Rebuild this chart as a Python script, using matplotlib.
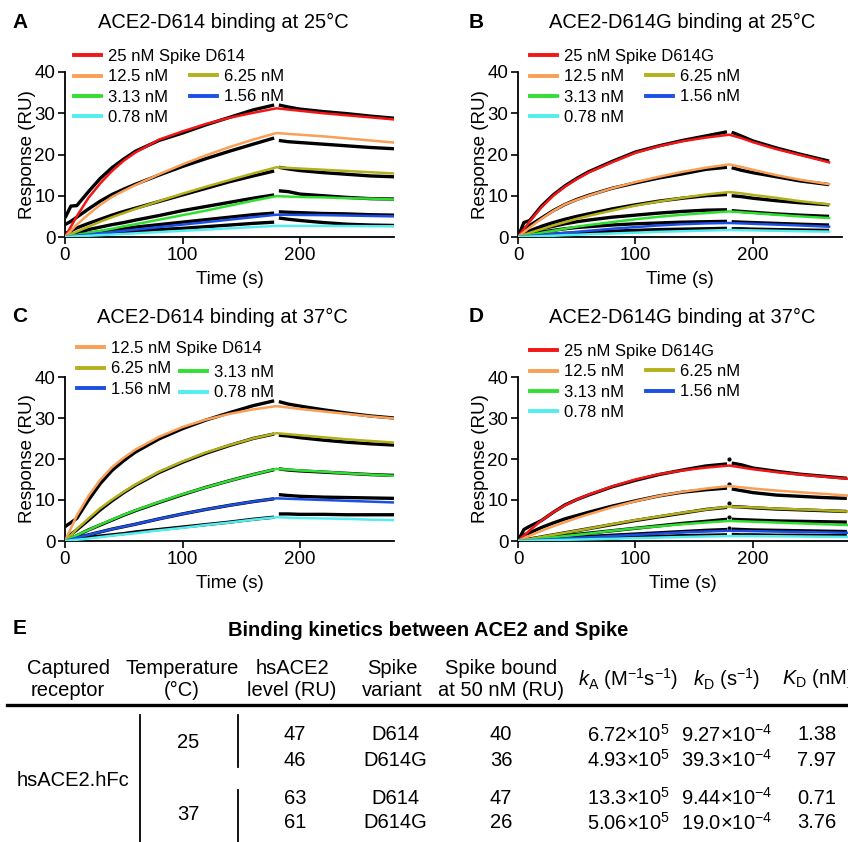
import matplotlib
matplotlib.use("Agg")
import matplotlib.pyplot as plt
from matplotlib.lines import Line2D

plt.rcParams["font.family"] = ["Liberation Sans", "DejaVu Sans"]
plt.rcParams["mathtext.fontset"] = "custom"
plt.rcParams["mathtext.rm"] = "Liberation Sans"
plt.rcParams["mathtext.it"] = "Liberation Sans:italic"
plt.rcParams["mathtext.bf"] = "Liberation Sans:bold"

W, H = 848, 842

# concentrations (nM) and colours of the fitted curves
conc = ["25", "12.5", "6.25", "3.13", "1.56", "0.78"]
colors = {"25": "#f31616", "12.5": "#fa9f55", "6.25": "#b3b01c",
          "3.13": "#30e030", "1.56": "#1d4fe4", "0.78": "#52eeee"}

# time points (s)
t_fit = [0, 10, 20, 30, 40, 50, 60, 80, 100, 120, 140, 160, 180, 200, 220, 240, 260, 280]
t_fit_b = [0, 10, 20, 30, 40, 50, 60, 80, 100, 120, 140, 160, 180, 190, 200, 220, 240, 265]
t_dat = [0, 5, 10, 20, 30, 40, 50, 60, 80, 100, 120, 140, 160, 178, 182, 190, 200, 220, 240, 260, 280]
t_dat_b = [0, 5, 10, 20, 30, 40, 50, 60, 80, 100, 120, 140, 160, 178, 182, 190, 200, 220, 240, 265]

# A: ACE2-D614 at 25 C
a_fit_25 = [0, 5.0, 9.5, 13.0, 16.0, 18.5, 20.5, 23.6, 25.6, 27.4, 28.9, 30.1, 31.2, 30.6, 30.0, 29.5, 29.0, 28.5]
a_fit_12 = [0, 3.0, 5.5, 7.8, 9.7, 11.2, 12.6, 15.2, 17.6, 19.8, 21.8, 23.6, 25.2, 24.8, 24.4, 23.9, 23.4, 22.9]
a_fit_6 = [0, 1.3, 2.5, 3.7, 4.8, 5.8, 6.8, 8.7, 10.5, 12.2, 13.8, 15.4, 16.9, 16.6, 16.3, 16.0, 15.7, 15.4]
a_fit_3 = [0, 0.5, 1.0, 1.5, 2.0, 2.6, 3.1, 4.2, 5.3, 6.4, 7.6, 8.8, 9.9, 9.7, 9.6, 9.4, 9.3, 9.1]
a_fit_1 = [0, 0.3, 0.6, 0.9, 1.2, 1.5, 1.8, 2.4, 3.0, 3.6, 4.2, 4.8, 5.4, 5.35, 5.3, 5.2, 5.1, 5.0]
a_fit_0 = [0, 0.15, 0.3, 0.45, 0.6, 0.75, 0.9, 1.2, 1.5, 1.8, 2.1, 2.4, 2.7, 2.7, 2.7, 2.65, 2.6, 2.6]
a_dat_25 = [4.6, 7.5, 7.6, 11.0, 14.2, 16.8, 18.9, 20.8, 23.4, 25.2, 27.2, 29.0, 30.8, 32.0, 32.0, 31.5, 31.0, 30.4, 29.9, 29.3, 28.8]
a_dat_12 = [3.0, 3.8, 4.8, 6.8, 8.7, 10.3, 11.6, 12.8, 15.0, 17.1, 19.0, 20.8, 22.5, 24.0, 23.4, 23.1, 22.9, 22.5, 22.1, 21.7, 21.4]
a_dat_6 = [0.8, 1.5, 2.2, 3.3, 4.3, 5.3, 6.2, 7.0, 8.6, 10.2, 11.8, 13.4, 14.8, 16.0, 16.9, 16.5, 16.1, 15.6, 15.2, 14.8, 14.6]
a_dat_3 = [0.3, 0.6, 0.9, 1.8, 2.4, 3.0, 3.5, 4.1, 5.2, 6.4, 7.4, 8.4, 9.4, 10.2, 11.2, 11.0, 10.4, 10.0, 9.6, 9.3, 9.2]
a_dat_1 = [0.1, 0.3, 0.5, 0.9, 1.3, 1.7, 2.0, 2.4, 3.0, 3.6, 4.2, 4.8, 5.4, 5.8, 6.1, 6.0, 5.9, 5.7, 5.6, 5.4, 5.3]
a_dat_0 = [0, 0.2, 0.3, 0.6, 0.8, 1.0, 1.2, 1.4, 1.8, 2.1, 2.5, 2.9, 3.3, 3.6, 4.6, 4.3, 4.0, 3.5, 3.1, 2.9, 2.8]

# B: ACE2-D614G at 25 C
b_fit_25 = [0, 3.8, 7.2, 10.0, 12.2, 14.0, 15.6, 18.1, 20.4, 22.0, 23.2, 24.1, 24.8, 24.0, 23.0, 21.3, 19.9, 18.1]
b_fit_12 = [0, 2.3, 4.4, 6.3, 7.9, 9.0, 10.0, 11.8, 13.3, 14.6, 15.8, 16.8, 17.6, 17.0, 16.3, 15.0, 13.9, 12.8]
b_fit_6 = [0, 1.0, 1.9, 2.8, 3.6, 4.4, 5.1, 6.4, 7.6, 8.6, 9.5, 10.3, 10.9, 10.6, 10.2, 9.5, 8.7, 7.9]
b_fit_3 = [0, 0.5, 1.0, 1.5, 2.0, 2.5, 2.9, 3.6, 4.3, 4.9, 5.4, 5.8, 6.2, 6.0, 5.8, 5.4, 5.0, 4.6]
b_fit_1 = [0, 0.25, 0.5, 0.75, 1.0, 1.25, 1.5, 2.0, 2.4, 2.8, 3.1, 3.3, 3.4, 3.3, 3.2, 3.0, 2.8, 2.5]
b_fit_0 = [0, 0.1, 0.2, 0.3, 0.45, 0.55, 0.65, 0.85, 1.05, 1.25, 1.4, 1.55, 1.7, 1.65, 1.6, 1.5, 1.4, 1.3]
b_dat_25 = [0, 3.5, 4.0, 7.5, 10.2, 12.4, 14.2, 15.8, 18.3, 20.6, 22.1, 23.4, 24.5, 25.5, 25.4, 24.5, 23.3, 21.6, 20.1, 18.4]
b_dat_12 = [0.5, 2.0, 2.8, 4.6, 6.4, 7.9, 9.1, 10.1, 11.8, 13.1, 14.3, 15.3, 16.4, 16.9, 16.8, 16.2, 15.6, 14.6, 13.6, 12.7]
b_dat_6 = [0.3, 0.9, 1.5, 2.6, 3.5, 4.3, 5.0, 5.6, 6.8, 7.8, 8.7, 9.4, 10.0, 10.3, 10.0, 9.8, 9.4, 8.8, 8.3, 7.8]
b_dat_3 = [0.2, 0.7, 1.2, 2.0, 2.6, 3.2, 3.7, 4.1, 4.8, 5.3, 5.8, 6.2, 6.5, 6.6, 6.4, 6.2, 6.0, 5.6, 5.3, 5.0]
b_dat_1 = [0, 0.4, 0.7, 1.2, 1.6, 2.0, 2.3, 2.5, 2.9, 3.2, 3.4, 3.6, 3.7, 3.8, 3.7, 3.6, 3.5, 3.3, 3.1, 2.9]
b_dat_0 = [0, 0.2, 0.3, 0.5, 0.7, 0.9, 1.0, 1.2, 1.4, 1.6, 1.8, 1.9, 2.0, 2.1, 2.0, 2.0, 1.9, 1.8, 1.7, 1.6]

# C: ACE2-D614 at 37 C
c_fit_12 = [0, 6.2, 11.0, 14.9, 18.0, 20.3, 22.3, 25.4, 27.8, 29.6, 31.0, 32.1, 32.9, 32.2, 31.6, 31.0, 30.4, 29.9]
c_fit_6 = [0, 2.9, 5.5, 8.0, 10.1, 12.0, 13.8, 16.9, 19.4, 21.6, 23.4, 25.0, 26.3, 25.8, 25.3, 24.8, 24.4, 24.0]
c_fit_3 = [0, 1.4, 2.7, 4.0, 5.2, 6.4, 7.5, 9.5, 11.4, 13.1, 14.7, 16.2, 17.6, 17.2, 16.9, 16.5, 16.2, 15.9]
c_fit_1 = [0, 0.8, 1.5, 2.2, 2.9, 3.5, 4.1, 5.4, 6.6, 7.7, 8.7, 9.6, 10.4, 10.2, 10.0, 9.8, 9.6, 9.4]
c_fit_0 = [0, 0.3, 0.6, 0.95, 1.3, 1.6, 1.9, 2.6, 3.2, 3.9, 4.5, 5.2, 5.8, 5.6, 5.5, 5.4, 5.2, 5.1]
c_dat_12 = [3.5, 4.5, 5.5, 10.0, 14.0, 17.2, 19.6, 21.7, 24.9, 27.4, 29.5, 31.3, 33.0, 34.2, 34.0, 33.4, 32.9, 32.0, 31.2, 30.5, 30.0]
c_dat_6 = [0.5, 1.6, 2.7, 5.1, 7.6, 9.8, 11.8, 13.6, 16.7, 19.2, 21.4, 23.3, 25.0, 26.1, 25.8, 25.6, 25.2, 24.6, 24.1, 23.7, 23.4]
c_dat_3 = [0, 0.6, 1.3, 2.7, 3.9, 5.1, 6.3, 7.4, 9.4, 11.3, 13.1, 14.7, 16.2, 17.4, 17.6, 17.3, 17.1, 16.8, 16.5, 16.2, 16.0]
c_dat_1 = [0, 0.4, 0.8, 1.5, 2.2, 2.9, 3.5, 4.1, 5.4, 6.6, 7.7, 8.7, 9.6, 10.3, 11.3, 11.1, 10.9, 10.7, 10.6, 10.5, 10.4]
c_dat_0 = [0, 0.15, 0.4, 0.9, 1.2, 1.5, 1.8, 2.2, 2.8, 3.4, 4.0, 4.6, 5.3, 5.8, 6.6, 6.6, 6.5, 6.5, 6.4, 6.4, 6.4]

# D: ACE2-D614G at 37 C
d_fit_25 = [0, 2.6, 5.0, 7.0, 8.7, 10.1, 11.3, 13.3, 15.0, 16.3, 17.2, 17.9, 18.4, 17.5, 16.8, 16.2, 15.7, 15.2]
d_fit_12 = [0, 1.3, 2.5, 3.6, 4.6, 5.6, 6.5, 8.2, 9.7, 11.0, 12.0, 12.8, 13.4, 12.8, 12.3, 11.9, 11.5, 11.1]
d_fit_6 = [0, 0.5, 1.0, 1.5, 2.0, 2.5, 3.0, 4.1, 5.1, 6.0, 6.9, 7.7, 8.4, 8.2, 7.9, 7.7, 7.5, 7.2]
d_fit_3 = [0, 0.3, 0.6, 0.9, 1.2, 1.5, 1.8, 2.5, 3.1, 3.6, 4.1, 4.5, 4.9, 4.7, 4.5, 4.3, 4.1, 3.9]
d_fit_1 = [0, 0.15, 0.3, 0.45, 0.6, 0.75, 0.9, 1.2, 1.5, 1.8, 2.1, 2.3, 2.5, 2.4, 2.3, 2.2, 2.1, 2.0]
d_fit_0 = [0, 0.07, 0.14, 0.21, 0.28, 0.35, 0.42, 0.56, 0.7, 0.84, 0.98, 1.1, 1.2, 1.18, 1.15, 1.1, 1.05, 1.0]
d_dat_25 = [0, 2.8, 3.6, 5.0, 7.0, 8.8, 10.1, 11.2, 13.2, 14.8, 16.2, 17.3, 18.3, 18.8, 19.0, 18.6, 17.8, 17.0, 16.3, 15.8, 15.3]
d_dat_12 = [0, 1.5, 2.0, 3.3, 4.4, 5.4, 6.2, 7.0, 8.5, 9.8, 11.0, 11.9, 12.5, 12.9, 12.7, 12.3, 11.8, 11.2, 10.9, 10.6, 10.4]
d_dat_6 = [0, 0.3, 0.5, 1.0, 1.5, 2.0, 2.5, 3.0, 4.0, 5.0, 5.9, 6.8, 7.7, 8.2, 8.4, 8.3, 8.1, 7.8, 7.6, 7.4, 7.2]
d_dat_3 = [0, 0.2, 0.4, 0.7, 1.0, 1.3, 1.6, 1.9, 2.5, 3.1, 3.7, 4.3, 4.8, 5.3, 5.3, 5.2, 5.1, 4.9, 4.8, 4.7, 4.6]
d_dat_1 = [0, 0.1, 0.2, 0.4, 0.6, 0.8, 0.9, 1.1, 1.4, 1.7, 2.0, 2.3, 2.6, 2.8, 2.9, 2.8, 2.7, 2.6, 2.5, 2.4, 2.3]
d_dat_0 = [0, 0, 0.1, 0.2, 0.3, 0.4, 0.5, 0.6, 0.8, 1.0, 1.1, 1.3, 1.4, 1.5, 1.6, 1.5, 1.5, 1.4, 1.4, 1.3, 1.3]
d_spike_t = 180
d_spike_dots = [20.1, 14.0, 9.3, 5.9, 3.2]

# E: table
receptor = "hsACE2.hFc"
temps = ["25", "37"]
levels = ["47", "46", "63", "61"]
variants = ["D614", "D614G", "D614", "D614G"]
bound = ["40", "36", "47", "26"]
k_a = ["6.72", "4.93", "13.3", "5.06"]
k_d = ["9.27", "39.3", "9.44", "19.0"]
K_D = ["1.38", "7.97", "0.71", "3.76"]


def rect(l, t, r, b):
    return [l / W, 1 - b / H, (r - l) / W, (b - t) / H]


def ftext(x, y, s, **kw):
    fig.text(x / W, 1 - y / H, s, ha=kw.pop("ha", "center"), va=kw.pop("va", "center"), **kw)


def draw_panel(ax, tf, fits, td, dats, xmax):
    handles = {}
    n_on = sum(1 for t in td if t <= 180)
    for c, ys in dats.items():
        ax.plot(td[:n_on], ys[:n_on], color="black", lw=2.4, zorder=2, solid_capstyle="butt")
        ax.plot(td[n_on:], ys[n_on:], color="black", lw=2.4, zorder=2, solid_capstyle="butt")
    for c, ys in fits.items():
        handles[c], = ax.plot(tf, ys, color=colors[c], lw=1.8, zorder=3)
    ax.set_xlim(0, xmax)
    ax.set_ylim(0, 40)
    ax.set_xticks([0, 100, 200])
    ax.set_yticks([0, 10, 20, 30, 40])
    for s in ["top", "right"]:
        ax.spines[s].set_visible(False)
    for s in ["left", "bottom"]:
        ax.spines[s].set_linewidth(1.3)
    ax.tick_params(labelsize=13.5, length=5, width=1.2, pad=2)
    ax.set_xlabel("Time (s)", fontsize=13.5, labelpad=5)
    ax.set_ylabel("Response (RU)", fontsize=13.5, labelpad=-1)
    return handles


def add_legends(ax, handles, col1, col2, first_label, p1, p2):
    labels1 = [first_label] + [c + " nM" for c in col1[1:]]
    kw = dict(frameon=False, fontsize=12, handlelength=1.6, handletextpad=0.45,
              labelspacing=0.32, borderpad=0, borderaxespad=0, loc="upper left",
              bbox_transform=fig.transFigure)
    leg1 = ax.legend([handles[c] for c in col1], labels1,
                     bbox_to_anchor=(p1[0] / W, 1 - p1[1] / H), **kw)
    ax.add_artist(leg1)
    leg2 = ax.legend([handles[c] for c in col2], [c + " nM" for c in col2],
                     bbox_to_anchor=(p2[0] / W, 1 - p2[1] / H), **kw)
    for lg in (leg1, leg2):
        for ln in lg.get_lines():
            ln.set_linewidth(2.8)


fig = plt.figure(figsize=(W / 100, H / 100), dpi=100)

ax_a = fig.add_axes(rect(65, 72, 394, 237))
ax_b = fig.add_axes(rect(518, 72, 842, 237))
ax_c = fig.add_axes(rect(65, 377, 394, 541))
ax_d = fig.add_axes(rect(518, 377, 848, 541))

h = draw_panel(ax_a, t_fit,
               {"25": a_fit_25, "12.5": a_fit_12, "6.25": a_fit_6, "3.13": a_fit_3, "1.56": a_fit_1, "0.78": a_fit_0},
               t_dat,
               {"25": a_dat_25, "12.5": a_dat_12, "6.25": a_dat_6, "3.13": a_dat_3, "1.56": a_dat_1, "0.78": a_dat_0},
               280)
add_legends(ax_a, h, ["25", "12.5", "3.13", "0.78"], ["6.25", "1.56"], "25 nM Spike D614", (74, 49), (190, 69))

h = draw_panel(ax_b, t_fit_b,
               {"25": b_fit_25, "12.5": b_fit_12, "6.25": b_fit_6, "3.13": b_fit_3, "1.56": b_fit_1, "0.78": b_fit_0},
               t_dat_b,
               {"25": b_dat_25, "12.5": b_dat_12, "6.25": b_dat_6, "3.13": b_dat_3, "1.56": b_dat_1, "0.78": b_dat_0},
               276)
add_legends(ax_b, h, ["25", "12.5", "3.13", "0.78"], ["6.25", "1.56"], "25 nM Spike D614G", (530, 49), (646, 69))

h = draw_panel(ax_c, t_fit,
               {"12.5": c_fit_12, "6.25": c_fit_6, "3.13": c_fit_3, "1.56": c_fit_1, "0.78": c_fit_0},
               t_dat,
               {"12.5": c_dat_12, "6.25": c_dat_6, "3.13": c_dat_3, "1.56": c_dat_1, "0.78": c_dat_0},
               280)
add_legends(ax_c, h, ["12.5", "6.25", "1.56"], ["3.13", "0.78"], "12.5 nM Spike D614", (77, 341), (180, 365))

h = draw_panel(ax_d, t_fit,
               {"25": d_fit_25, "12.5": d_fit_12, "6.25": d_fit_6, "3.13": d_fit_3, "1.56": d_fit_1, "0.78": d_fit_0},
               t_dat,
               {"25": d_dat_25, "12.5": d_dat_12, "6.25": d_dat_6, "3.13": d_dat_3, "1.56": d_dat_1, "0.78": d_dat_0},
               281)
ax_d.plot([d_spike_t] * len(d_spike_dots), d_spike_dots, "o", color="black", ms=2, zorder=2)
add_legends(ax_d, h, ["25", "12.5", "3.13", "0.78"], ["6.25", "1.56"], "25 nM Spike D614G", (530, 344), (646, 364))

# panel titles and letters
ftext(223, 22, "ACE2-D614 binding at 25°C", fontsize=14.5)
ftext(682, 22, "ACE2-D614G binding at 25°C", fontsize=14.5)
ftext(222, 317, "ACE2-D614 binding at 37°C", fontsize=14.5)
ftext(682, 317, "ACE2-D614G binding at 37°C", fontsize=14.5)
for x, y, s in [(20, 22, "A"), (476, 22, "B"), (20, 317, "C"), (476, 317, "D"), (20, 628, "E")]:
    ftext(x, y, s, fontsize=15, fontweight="bold")

# table E
ftext(428, 631, "Binding kinetics between ACE2 and Spike", fontsize=14.5, fontweight="bold")
fs = 14.5
col_x = [68, 182, 292, 392, 501, 628, 727, 817]
head1 = ["Captured", "Temperature", "hsACE2", "Spike", "Spike bound"]
head2 = ["receptor", "(°C)", "level (RU)", "variant", "at 50 nM (RU)"]
for x, a, b in zip(col_x, head1, head2):
    ftext(x, 668, a, fontsize=fs)
    ftext(x, 690, b, fontsize=fs)
ftext(col_x[5], 679, r"$k_\mathregular{A}$ (M$^{-1}$s$^{-1}$)", fontsize=fs)
ftext(col_x[6], 679, r"$k_\mathregular{D}$ (s$^{-1}$)", fontsize=fs)
ftext(782, 679, r"$K_\mathregular{D}$ (nM)", fontsize=fs, ha="left")
fig.add_artist(Line2D([7 / W, 1], [1 - 705 / H] * 2, color="black", lw=2.4, transform=fig.transFigure))

row_y = [735, 760, 798, 823]
for i, y in enumerate(row_y):
    ftext(col_x[2] + 3, y, levels[i], fontsize=fs)
    ftext(col_x[3] + 3, y, variants[i], fontsize=fs)
    ftext(col_x[4], y, bound[i], fontsize=fs)
    ftext(col_x[5], y, k_a[i] + "×10$^{5}$", fontsize=fs)
    ftext(col_x[6], y, k_d[i] + "×10$^{-4}$", fontsize=fs)
    ftext(col_x[7], y, K_D[i], fontsize=fs)
ftext(188, 743, temps[0], fontsize=fs)
ftext(188, 815, temps[1], fontsize=fs)
ftext(73, 780, receptor, fontsize=fs)
for x, y0, y1 in [(140, 715, 842), (238, 715, 767), (238, 790, 842)]:
    fig.add_artist(Line2D([x / W] * 2, [1 - y0 / H, 1 - y1 / H], color="black", lw=1.3,
                          transform=fig.transFigure))

fig.savefig("out.png", dpi=100)
